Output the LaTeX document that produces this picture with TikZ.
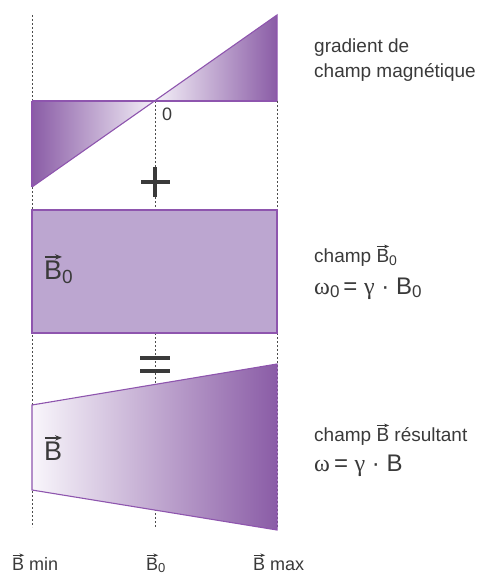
\documentclass[tikz,border=0pt]{standalone}
\usepackage{fontspec}
\setmainfont{Liberation Sans}
\newfontfamily\grk{Liberation Serif}
\usetikzlibrary{arrows.meta}
\definecolor{pline}{HTML}{8E55AE}
\definecolor{pdark}{HTML}{8A5CA6}
\definecolor{plight}{HTML}{F4F0F8}
\definecolor{prect}{HTML}{BCA6D0}
\definecolor{txt}{HTML}{3A3A3A}
\newbox\vbbox
\newdimen\vbw
\newcommand{\vb}[1]{\setbox\vbbox\hbox{#1}\vbw=\wd\vbbox\rlap{\raisebox{\dimexpr\ht\vbbox+0.13em\relax}{\tikz[x=1pt,y=1pt,baseline=0pt]\draw[txt,line width=0.05em,-{Stealth[length=0.26em,width=0.2em]}] (0.03em,0)--(\vbw,0);}}\box\vbbox}
\newcommand{\sub}[2]{\raisebox{-0.16em}{\fontsize{#1}{#1}\selectfont #2}}
\tikzset{
  guide/.style={gray!60!black, line width=0.9pt, dash pattern=on 2pt off 2pt},
  outl/.style={pline, line width=1.1pt, line join=miter},
  lbl/.style={text=txt, font=\fontsize{19}{21}\selectfont, inner sep=0pt, anchor=base west},
  bot/.style={text=txt, font=\fontsize{18}{20}\selectfont, inner sep=0pt, anchor=base west},
  big/.style={text=txt, font=\fontsize{27}{29}\selectfont, inner sep=0pt, anchor=base west},
  eqn/.style={text=txt, font=\fontsize{24}{26}\selectfont, inner sep=0pt, anchor=base west},
  opbar/.style={txt, line width=4pt}
}
\begin{document}
\begin{tikzpicture}[x=1pt,y=-1pt]
\useasboundingbox (0,0) rectangle (481,575);
% guides
\coordinate (gLt) at (32,15); \coordinate (gLb) at (32,527);
\coordinate (gMt) at (155,101); \coordinate (gMb) at (155,527);
\coordinate (gRt) at (277,101); \coordinate (gRb) at (277,527);
\draw[guide] (gLt) -- (gLb);
\draw[guide] (gMt) -- (gMb);
\draw[guide] (gRt) -- (gRb);
% gradient triangles
\coordinate (tA) at (32,101); \coordinate (tB) at (32,187);
\coordinate (tO) at (155,101);
\coordinate (tC) at (277,15); \coordinate (tD) at (277,101);
\shade[left color=pdark, right color=plight] (tA) -- (tO) -- (tB) -- cycle;
\shade[left color=plight, right color=pdark] (tO) -- (tC) -- (tD) -- cycle;
\draw[outl] (tA) -- (tD);
\draw[outl] (tB) -- (tC) -- (tD);
\draw[outl] (tA) -- (tB);
\node[bot] (zero) at (162,121) {0};
% plus
\coordinate (pl1) at (141,182); \coordinate (pl2) at (170,182);
\coordinate (pl3) at (155,167); \coordinate (pl4) at (155,197);
\draw[opbar] (pl1) -- (pl2);
\draw[opbar] (pl3) -- (pl4);
% rectangle
\coordinate (rA) at (32,210); \coordinate (rB) at (277,333);
\fill[prect] (rA) rectangle (rB);
\draw[outl] (rA) rectangle (rB);
\node[big] (b0in) at (44,279) {\vb{B}\sub{19}{0}};
% equals
\coordinate (e1) at (140,358); \coordinate (e2) at (170,358);
\coordinate (e3) at (140,371); \coordinate (e4) at (170,371);
\draw[opbar] (e1) -- (e2);
\draw[opbar] (e3) -- (e4);
% trapezoid
\coordinate (qA) at (32,405); \coordinate (qB) at (277,364);
\coordinate (qC) at (277,530); \coordinate (qD) at (32,490);
\shade[left color=plight!60!white, right color=pdark] (qA) -- (qB) -- (qC) -- (qD) -- cycle;
\draw[outl] (qA) -- (qB) -- (qC) -- (qD) -- cycle;
\node[big] (bin) at (44,460) {\vb{B}};
% right texts
\node[lbl] (t1) at (314,53) {gradient de};
\node[lbl] (t2) at (314,78) {champ magnétique};
\node[lbl] (t3) at (314,262) {champ \vb{B}\sub{14}{0}};
\node[eqn] (t4) at (314,294) {{\grk ω}\sub{17}{0}\,= {\grk γ} · B\sub{17}{0}};
\node[lbl] (t5) at (314,441) {champ \vb{B} résultant};
\node[eqn] (t6) at (314,471) {{\grk ω}\,= {\grk γ} · B};
% bottom labels
\node[bot] (bm) at (12,570) {\vb{B} min};
\node[bot] (bz) at (146,570) {\vb{B}\sub{13}{0}};
\node[bot] (bx) at (253,570) {\vb{B} max};
\end{tikzpicture}
\end{document}
